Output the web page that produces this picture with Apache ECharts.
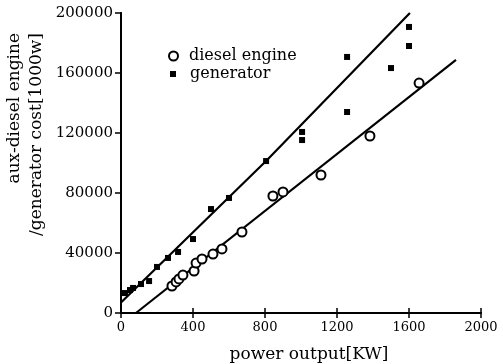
<!DOCTYPE html>
<html><head><meta charset="utf-8">
<script src="https://cdn.jsdelivr.net/npm/echarts@6/dist/echarts.min.js"></script>
<style>html,body{margin:0;padding:0;background:#fff}#c{width:503px;height:364px}</style>
</head><body><div id="c"></div>
<script>
// ---- data ----
const xTicks = [0, 400, 800, 1200, 1600, 2000];
const yTicks = [0, 40000, 80000, 120000, 160000, 200000];
const genPower = [22, 50, 67, 111, 156, 200, 261, 317, 400, 500, 600, 806, 1006, 1006, 1256, 1256, 1500, 1600, 1600];
const genCost = [13300, 15300, 16700, 19300, 21300, 30700, 36700, 40700, 49300, 69300, 76700, 101300, 120700, 115300, 170700, 134000, 163300, 190700, 178000];
const dieselPower = [283, 306, 322, 344, 406, 417, 450, 511, 561, 672, 844, 900, 1111, 1383, 1656];
const dieselCost = [18000, 20700, 22700, 25300, 28000, 33300, 36000, 39300, 42700, 54000, 78000, 80700, 92000, 118000, 153300];
const genFitPower = [0, 806, 1605];
const genFitCost = [7000, 101300, 200000];
const dieselFitPower = [83, 1861];
const dieselFitCost = [0, 168700];
const xTitle = 'power output[KW]';
const yTitle1 = 'aux-diesel engine';
const yTitle2 = '/generator cost[1000w]';

const zip = (a, b) => a.map((v, i) => [v, b[i]]);
const F = 'DejaVu Serif';
const plain = v => String(v);
const axisLine = {show: true, lineStyle: {color: '#000', width: 2}};
const chart = echarts.init(document.getElementById('c'), null, {renderer: 'canvas'});
chart.setOption({
  animation: false,
  backgroundColor: '#fff',
  grid: {left: 121, right: 22, top: 13, bottom: 51, containLabel: false},
  xAxis: [
    {type: 'value', min: xTicks[0], max: xTicks[xTicks.length - 1], interval: 400, position: 'bottom',
     axisLine, splitLine: {show: false},
     axisTick: {inside: true, length: 5, lineStyle: {color: '#000', width: 1.5}},
     axisLabel: {fontFamily: F, fontSize: 13, color: '#000', margin: 8, formatter: plain}},
    {type: 'value', min: xTicks[0], max: xTicks[xTicks.length - 1], interval: 400, position: 'top',
     axisLine, splitLine: {show: false},
     axisTick: {inside: true, length: 5, lineStyle: {color: '#000', width: 1.5}},
     axisLabel: {show: false}}
  ],
  yAxis: [
    {type: 'value', min: yTicks[0], max: yTicks[yTicks.length - 1], interval: 40000, position: 'left',
     axisLine, splitLine: {show: false},
     axisTick: {inside: false, length: 6, lineStyle: {color: '#000', width: 1.5}},
     axisLabel: {fontFamily: F, fontSize: 15, color: '#000', margin: 8, formatter: plain}},
    {type: 'value', min: yTicks[0], max: yTicks[yTicks.length - 1], interval: 40000, position: 'right',
     axisLine, splitLine: {show: false},
     axisTick: {inside: true, length: 5, lineStyle: {color: '#000', width: 1.5}},
     axisLabel: {show: false}}
  ],
  legend: [
    {data: ['diesel engine'], left: 163, top: 43, itemWidth: 9, itemHeight: 9, orient: 'vertical',
     textStyle: {fontFamily: F, fontSize: 16, color: '#000', padding: [0, 0, 0, 6]}},
    {data: ['generator'], left: 165, top: 61, itemWidth: 6, itemHeight: 6, orient: 'vertical',
     textStyle: {fontFamily: F, fontSize: 16, color: '#000', padding: [0, 0, 0, 9]}}
  ],
  series: [
    {name: 'generator fit', type: 'line', data: zip(genFitPower, genFitCost), showSymbol: false,
     lineStyle: {color: '#000', width: 2.2}, silent: true, z: 1},
    {name: 'diesel fit', type: 'line', data: zip(dieselFitPower, dieselFitCost), showSymbol: false,
     lineStyle: {color: '#000', width: 2.2}, silent: true, z: 1},
    {name: 'diesel engine', type: 'scatter', data: zip(dieselPower, dieselCost), symbol: 'circle', symbolSize: 9,
     itemStyle: {color: '#fff', borderColor: '#000', borderWidth: 2, opacity: 1}, z: 3},
    {name: 'generator', type: 'scatter', data: zip(genPower, genCost), symbol: 'rect', symbolSize: 6,
     itemStyle: {color: '#000', opacity: 1}, z: 3}
  ],
  graphic: [
    {type: 'text', x: 309, y: 355, style: {text: xTitle, font: '17px "DejaVu Serif"', fill: '#000', textAlign: 'center', textVerticalAlign: 'middle'}},
    {type: 'text', x: 15, y: 33, rotation: Math.PI / 2, style: {text: yTitle1, font: '17px "DejaVu Serif"', fill: '#000', textAlign: 'right', textVerticalAlign: 'middle'}},
    {type: 'text', x: 37, y: 33, rotation: Math.PI / 2, style: {text: yTitle2, font: '17px "DejaVu Serif"', fill: '#000', textAlign: 'right', textVerticalAlign: 'middle'}}
  ]
});
</script></body></html>
